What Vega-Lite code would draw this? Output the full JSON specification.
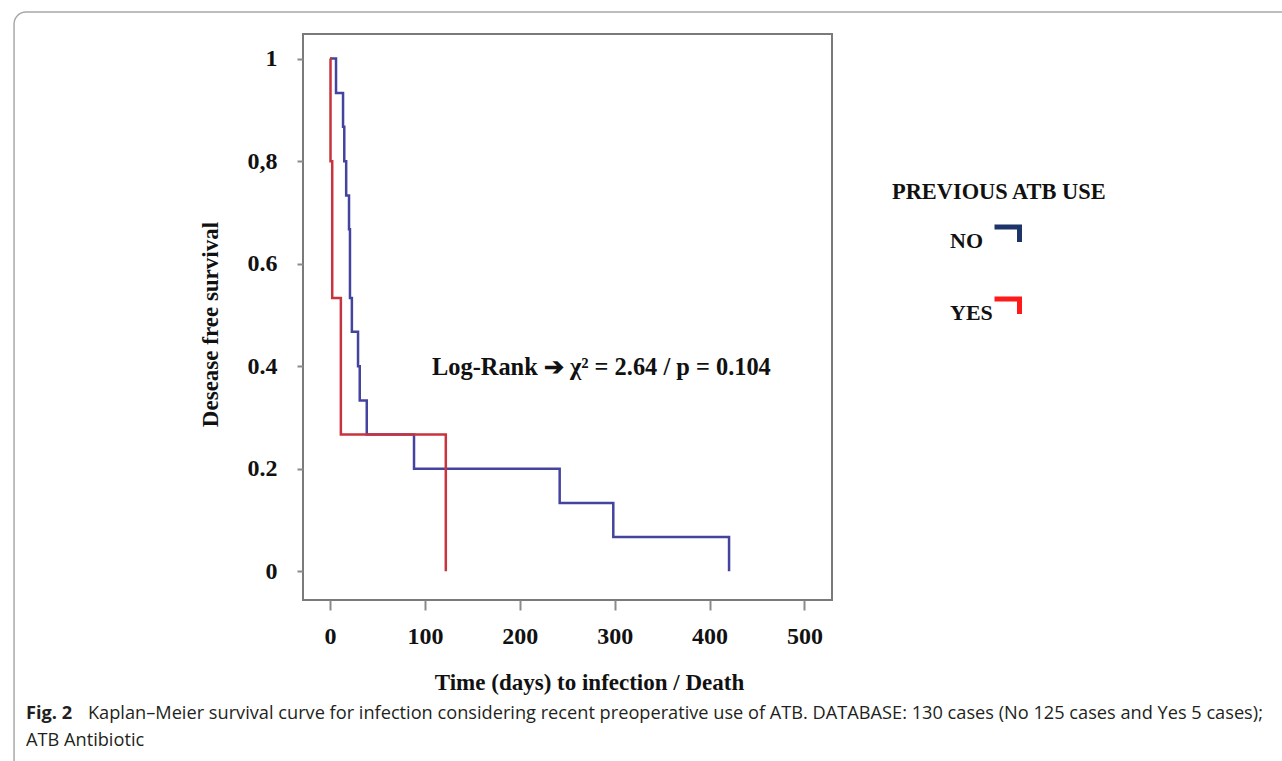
{
  "$schema": "https://vega.github.io/schema/vega-lite/v6.json",
  "width": 529,
  "height": 566,
  "autosize": "none",
  "padding": {"left": 303, "top": 34, "right": 450, "bottom": 161},
  "background": "white",
  "config": {
    "view": {"stroke": "#7a7a7a", "strokeWidth": 2},
    "font": "Liberation Serif"
  },
  "datasets": {
    "km": [
      {"group": "NO", "t": 0, "s": 1},
      {"group": "NO", "t": 6.3, "s": 0.933},
      {"group": "NO", "t": 13.7, "s": 0.867},
      {"group": "NO", "t": 15, "s": 0.8},
      {"group": "NO", "t": 17, "s": 0.733},
      {"group": "NO", "t": 20, "s": 0.667},
      {"group": "NO", "t": 21, "s": 0.533},
      {"group": "NO", "t": 23, "s": 0.467},
      {"group": "NO", "t": 29.5, "s": 0.4},
      {"group": "NO", "t": 31.3, "s": 0.333},
      {"group": "NO", "t": 38.7, "s": 0.267},
      {"group": "NO", "t": 88.5, "s": 0.2},
      {"group": "NO", "t": 242, "s": 0.133},
      {"group": "NO", "t": 298.5, "s": 0.067},
      {"group": "NO", "t": 420.5, "s": 0},
      {"group": "YES", "t": 0, "s": 1},
      {"group": "YES", "t": 0.5, "s": 0.8},
      {"group": "YES", "t": 2.3, "s": 0.533},
      {"group": "YES", "t": 11.4, "s": 0.267},
      {"group": "YES", "t": 122, "s": 0}
    ]
  },
  "layer": [
    {
      "data": {"values": [{"k": 1}]},
      "mark": {"type": "rect", "fill": "transparent", "stroke": "#a8a8a8", "strokeWidth": 1.5, "cornerRadius": 12},
      "encoding": {
        "x": {"datum": -333},
        "x2": {"datum": 1040},
        "y": {"datum": 1.091},
        "y2": {"datum": -0.42}
      }
    },
    {
      "data": {"name": "km"},
      "mark": {"type": "line", "interpolate": "step-after", "strokeWidth": 2.5},
      "encoding": {
        "x": {
          "field": "t",
          "type": "quantitative",
          "scale": {"domain": [-28.5, 529], "nice": false, "zero": false},
          "axis": {
            "title": "Time (days) to infection / Death",
            "values": [0, 100, 200, 300, 400, 500],
            "format": "d",
            "domain": false,
            "grid": false,
            "tickSize": 10,
            "tickWidth": 2,
            "tickColor": "#8a8a8a",
            "labelFont": "Liberation Serif",
            "labelFontSize": 24,
            "labelFontWeight": "bold",
            "labelColor": "#111111",
            "labelPadding": 14,
            "labelFlush": false,
            "labelOverlap": false,
            "titleFont": "Liberation Serif",
            "titleFontSize": 23,
            "titleFontWeight": "bold",
            "titleColor": "#111111",
            "titleX": 286,
            "titleY": 82,
            "titleAlign": "center",
            "titleBaseline": "middle"
          }
        },
        "y": {
          "field": "s",
          "type": "quantitative",
          "scale": {"domain": [-0.056, 1.048], "nice": false, "zero": false},
          "axis": {
            "title": "Desease free survival",
            "values": [0, 0.2, 0.4, 0.6, 0.8, 1],
            "labelExpr": "datum.value == 0.8 ? '0,8' : format(datum.value, '.1~f')",
            "domain": false,
            "grid": false,
            "tickSize": 6,
            "tickWidth": 2,
            "tickColor": "#8a8a8a",
            "labelFont": "Liberation Serif",
            "labelFontSize": 24,
            "labelFontWeight": "bold",
            "labelColor": "#111111",
            "labelPadding": 20,
            "labelOverlap": false,
            "titleFont": "Liberation Serif",
            "titleFontSize": 23,
            "titleFontWeight": "bold",
            "titleColor": "#111111",
            "titleX": -93,
            "titleY": 290,
            "titleAngle": -90,
            "titleAlign": "center",
            "titleBaseline": "middle"
          }
        },
        "color": {
          "field": "group",
          "type": "nominal",
          "scale": {"range": ["#44449e", "#c8343e"]},
          "legend": null
        }
      }
    },
    {
      "data": {"name": "km"},
      "mark": {"type": "line", "interpolate": "step-after", "strokeOpacity": 0},
      "encoding": {
        "x": {"field": "t", "type": "quantitative"},
        "y": {"field": "s", "type": "quantitative"},
        "stroke": {
          "field": "group",
          "type": "nominal",
          "scale": {"domain": ["NO", "YES"], "range": ["#1c3468", "#ff1a1a"]},
          "legend": {
            "title": "PREVIOUS ATB USE",
            "orient": "none",
            "legendX": 589,
            "legendY": 146.5,
            "padding": 0,
            "titleFont": "Liberation Serif",
            "titleFontSize": 22.4,
            "titleFontWeight": "bold",
            "titleColor": "#111111",
            "titlePadding": 23,
            "titleLimit": 400,
            "labelFont": "Liberation Serif",
            "labelFontSize": 22,
            "labelFontWeight": "bold",
            "labelColor": "#111111",
            "labelOffset": -72,
            "symbolOffset": 100,
            "symbolType": "M-1,-1.12H1V0.08",
            "symbolSize": 625,
            "symbolStrokeWidth": 5,
            "symbolFillColor": "transparent",
            "symbolOpacity": 1,
            "rowPadding": 37
          }
        }
      }
    },
    {
      "data": {"values": [{"txt": "Log-Rank ➔ χ² = 2.64 / p = 0.104"}]},
      "mark": {"type": "text", "font": "Liberation Serif", "fontSize": 24.4, "fontWeight": "bold", "color": "#111111", "align": "center", "baseline": "middle"},
      "encoding": {"x": {"datum": 286}, "y": {"datum": 0.397}, "text": {"field": "txt"}}
    },
    {
      "data": {"values": [{"txt": "Fig. 2"}]},
      "mark": {"type": "text", "font": "Open Sans", "fontSize": 18.2, "fontWeight": "bold", "color": "#231f20", "align": "left", "baseline": "middle"},
      "encoding": {"x": {"datum": -320.4}, "y": {"datum": -0.2775}, "text": {"field": "txt"}}
    },
    {
      "data": {"values": [{"txt": "Kaplan–Meier survival curve for infection considering recent preoperative use of ATB. DATABASE: 130 cases (No  125 cases and Yes  5 cases);"}]},
      "mark": {"type": "text", "font": "Open Sans", "fontSize": 18.2, "color": "#231f20", "align": "left", "baseline": "middle"},
      "encoding": {"x": {"datum": -255.1}, "y": {"datum": -0.2775}, "text": {"field": "txt"}}
    },
    {
      "data": {"values": [{"txt": "ATB Antibiotic"}]},
      "mark": {"type": "text", "font": "Open Sans", "fontSize": 18.2, "color": "#231f20", "align": "left", "baseline": "middle"},
      "encoding": {"x": {"datum": -320.4}, "y": {"datum": -0.331}, "text": {"field": "txt"}}
    }
  ]
}
